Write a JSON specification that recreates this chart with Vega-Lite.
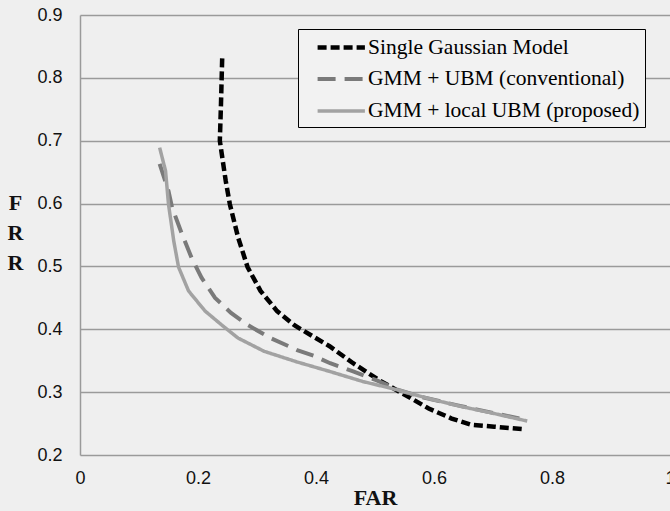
{
  "$schema": "https://vega.github.io/schema/vega-lite/v6.json",
  "width": 590,
  "height": 440,
  "autosize": {"type": "none"},
  "padding": {"left": 80, "top": 15, "right": 0, "bottom": 56},
  "background": "#efefef",
  "config": {
    "view": {"stroke": null},
    "axis": {"labelFont": "Liberation Sans", "labelFontSize": 18, "labelColor": "#111", "labelFlush": false, "titleFont": "Liberation Serif", "titleFontSize": 22, "titleFontWeight": "bold", "titleColor": "#111"}
  },
  "data": {"values": [
    {"s": "Single Gaussian Model", "far": 0.241, "frr": 0.831},
    {"s": "Single Gaussian Model", "far": 0.239, "frr": 0.76},
    {"s": "Single Gaussian Model", "far": 0.237, "frr": 0.70},
    {"s": "Single Gaussian Model", "far": 0.247, "frr": 0.636},
    {"s": "Single Gaussian Model", "far": 0.254, "frr": 0.599},
    {"s": "Single Gaussian Model", "far": 0.268, "frr": 0.546},
    {"s": "Single Gaussian Model", "far": 0.284, "frr": 0.499},
    {"s": "Single Gaussian Model", "far": 0.306, "frr": 0.461},
    {"s": "Single Gaussian Model", "far": 0.334, "frr": 0.429},
    {"s": "Single Gaussian Model", "far": 0.364, "frr": 0.406},
    {"s": "Single Gaussian Model", "far": 0.396, "frr": 0.388},
    {"s": "Single Gaussian Model", "far": 0.423, "frr": 0.373},
    {"s": "Single Gaussian Model", "far": 0.463, "frr": 0.346},
    {"s": "Single Gaussian Model", "far": 0.507, "frr": 0.319},
    {"s": "Single Gaussian Model", "far": 0.552, "frr": 0.295},
    {"s": "Single Gaussian Model", "far": 0.591, "frr": 0.274},
    {"s": "Single Gaussian Model", "far": 0.630, "frr": 0.258},
    {"s": "Single Gaussian Model", "far": 0.663, "frr": 0.248},
    {"s": "Single Gaussian Model", "far": 0.702, "frr": 0.245},
    {"s": "Single Gaussian Model", "far": 0.753, "frr": 0.241},
    {"s": "GMM + UBM (conventional)", "far": 0.135, "frr": 0.663},
    {"s": "GMM + UBM (conventional)", "far": 0.150, "frr": 0.620},
    {"s": "GMM + UBM (conventional)", "far": 0.156, "frr": 0.594},
    {"s": "GMM + UBM (conventional)", "far": 0.173, "frr": 0.551},
    {"s": "GMM + UBM (conventional)", "far": 0.189, "frr": 0.514},
    {"s": "GMM + UBM (conventional)", "far": 0.206, "frr": 0.482},
    {"s": "GMM + UBM (conventional)", "far": 0.229, "frr": 0.450},
    {"s": "GMM + UBM (conventional)", "far": 0.256, "frr": 0.426},
    {"s": "GMM + UBM (conventional)", "far": 0.284, "frr": 0.407},
    {"s": "GMM + UBM (conventional)", "far": 0.323, "frr": 0.386},
    {"s": "GMM + UBM (conventional)", "far": 0.368, "frr": 0.367},
    {"s": "GMM + UBM (conventional)", "far": 0.396, "frr": 0.358},
    {"s": "GMM + UBM (conventional)", "far": 0.424, "frr": 0.346},
    {"s": "GMM + UBM (conventional)", "far": 0.463, "frr": 0.333},
    {"s": "GMM + UBM (conventional)", "far": 0.502, "frr": 0.319},
    {"s": "GMM + UBM (conventional)", "far": 0.541, "frr": 0.303},
    {"s": "GMM + UBM (conventional)", "far": 0.580, "frr": 0.292},
    {"s": "GMM + UBM (conventional)", "far": 0.640, "frr": 0.279},
    {"s": "GMM + UBM (conventional)", "far": 0.700, "frr": 0.267},
    {"s": "GMM + UBM (conventional)", "far": 0.756, "frr": 0.256},
    {"s": "GMM + local UBM (proposed)", "far": 0.135, "frr": 0.689},
    {"s": "GMM + local UBM (proposed)", "far": 0.145, "frr": 0.652},
    {"s": "GMM + local UBM (proposed)", "far": 0.150, "frr": 0.599},
    {"s": "GMM + local UBM (proposed)", "far": 0.159, "frr": 0.540},
    {"s": "GMM + local UBM (proposed)", "far": 0.167, "frr": 0.499},
    {"s": "GMM + local UBM (proposed)", "far": 0.184, "frr": 0.461},
    {"s": "GMM + local UBM (proposed)", "far": 0.212, "frr": 0.429},
    {"s": "GMM + local UBM (proposed)", "far": 0.240, "frr": 0.407},
    {"s": "GMM + local UBM (proposed)", "far": 0.268, "frr": 0.386},
    {"s": "GMM + local UBM (proposed)", "far": 0.312, "frr": 0.365},
    {"s": "GMM + local UBM (proposed)", "far": 0.368, "frr": 0.348},
    {"s": "GMM + local UBM (proposed)", "far": 0.423, "frr": 0.333},
    {"s": "GMM + local UBM (proposed)", "far": 0.479, "frr": 0.317},
    {"s": "GMM + local UBM (proposed)", "far": 0.541, "frr": 0.303},
    {"s": "GMM + local UBM (proposed)", "far": 0.590, "frr": 0.290},
    {"s": "GMM + local UBM (proposed)", "far": 0.647, "frr": 0.277},
    {"s": "GMM + local UBM (proposed)", "far": 0.702, "frr": 0.266},
    {"s": "GMM + local UBM (proposed)", "far": 0.758, "frr": 0.254}
  ]},
  "mark": {"type": "line", "strokeCap": "butt"},
  "encoding": {
    "x": {"field": "far", "type": "quantitative", "scale": {"domain": [0, 1], "nice": false, "zero": false},
      "axis": {"title": "FAR", "values": [0, 0.2, 0.4, 0.6, 0.8, 1], "grid": false, "ticks": false, "domain": false, "labelPadding": 14, "titlePadding": 0, "format": "~g"}},
    "y": {"field": "frr", "type": "quantitative", "scale": {"domain": [0.2, 0.9], "nice": false, "zero": false},
      "axis": {"title": ["F", "R", "R"], "titleAngle": 0, "titleAlign": "center", "titleBaseline": "middle", "titleX": -65, "titleY": 187, "titleLineHeight": 30,
        "values": [0.2, 0.3, 0.4, 0.5, 0.6, 0.7, 0.8, 0.9], "format": ".1f", "grid": true, "gridColor": "#9a9a9a", "gridWidth": 1.5, "gridOpacity": 1,
        "ticks": false, "domain": true, "domainColor": "#9a9a9a", "domainWidth": 1.5, "labelPadding": 18}},
    "order": {"value": null},
    "color": {"field": "s", "type": "nominal", "title": null,
      "scale": {"domain": ["Single Gaussian Model", "GMM + UBM (conventional)", "GMM + local UBM (proposed)"], "range": ["#000000", "#7a7a7a", "#a2a2a2"]},
      "legend": {"orient": "none", "legendX": 218, "legendY": 14, "padding": 5, "strokeColor": "#000", "fillColor": "#f2f2f2",
        "labelFont": "Liberation Serif", "labelFontSize": 21.5, "labelColor": "#000", "labelOffset": 38, "labelLimit": 400,
        "symbolType": "M0.1,0H4.4", "symbolSize": 484, "rowPadding": 8}},
    "strokeDash": {"field": "s", "type": "nominal", "title": null,
      "scale": {"domain": ["Single Gaussian Model", "GMM + UBM (conventional)", "GMM + local UBM (proposed)"], "range": [[9, 4], [18, 9], [1, 0]]}},
    "strokeWidth": {"field": "s", "type": "nominal", "title": null,
      "scale": {"domain": ["Single Gaussian Model", "GMM + UBM (conventional)", "GMM + local UBM (proposed)"], "range": [4.5, 3.5, 3.5]}}
  }
}
